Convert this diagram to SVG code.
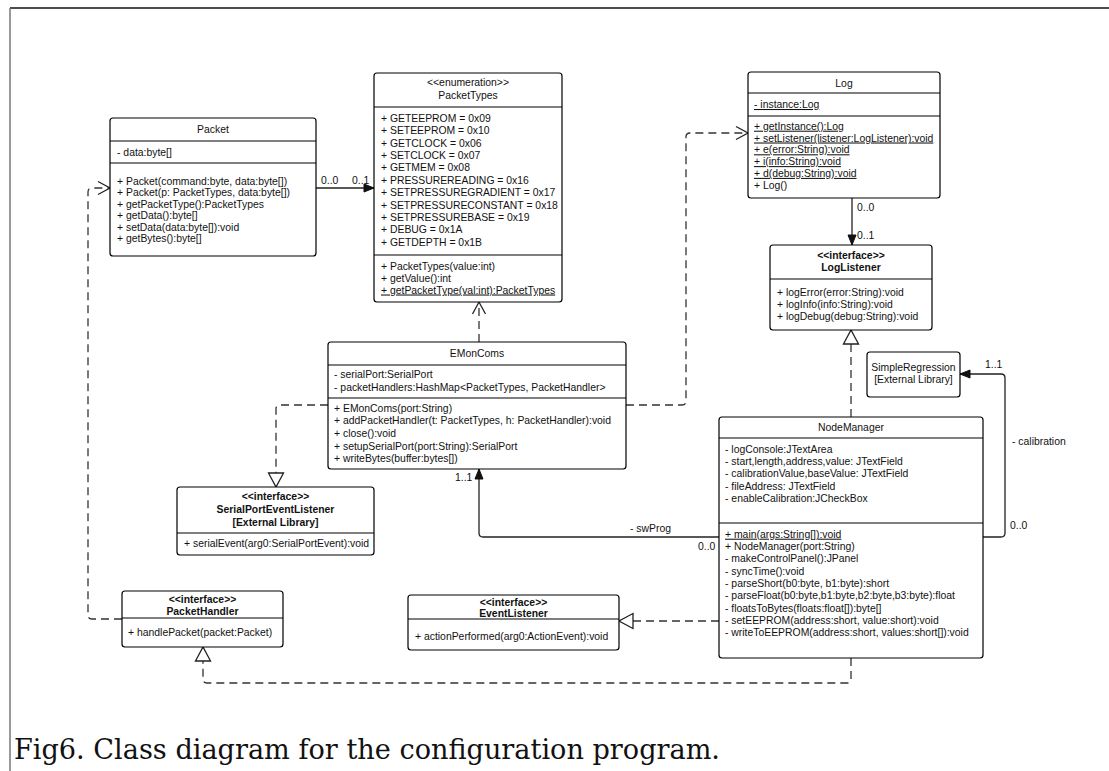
<svg xmlns="http://www.w3.org/2000/svg" width="1109" height="771" viewBox="0 0 1109 771">
  <style>
    .box { fill: #fff; stroke: #000; stroke-width: 1.2; }
    .sep { stroke: #000; stroke-width: 1.1; fill: none; }
    .t { font-family: "Liberation Sans", Arial, sans-serif; font-size: 10.4px; fill: #111; }
    .c { text-anchor: middle; }
    .b { font-weight: bold; }
    .u { text-decoration: underline; }
    .lbl { font-family: "Liberation Sans", Arial, sans-serif; font-size: 10.4px; fill: #111; }
    .solid { fill: none; stroke: #222; stroke-width: 1.3; }
    .dash { fill: none; stroke: #333; stroke-width: 1.3; stroke-dasharray: 8 5; }
    .cap { font-family: "DejaVu Serif", "Liberation Serif", serif; font-size: 27px; fill: #111; }
  </style>
  <defs>
    <!-- filled arrow for navigable associations -->
    <marker id="filled" markerUnits="userSpaceOnUse" markerWidth="12" markerHeight="12" refX="10" refY="6" orient="auto" overflow="visible">
      <path d="M0,2 L10,6 L0,10 z" fill="#111" stroke="#111" stroke-width="1" stroke-dasharray="none"/>
    </marker>
    <!-- open chevron for dependencies -->
    <marker id="open" markerUnits="userSpaceOnUse" markerWidth="14" markerHeight="14" refX="12" refY="7" orient="auto" overflow="visible">
      <path d="M0,0.5 L12,7 L0,13.5" fill="none" stroke="#222" stroke-width="1.3" stroke-dasharray="none"/>
    </marker>
    <!-- hollow triangle for realizations -->
    <marker id="tri" markerUnits="userSpaceOnUse" markerWidth="16" markerHeight="16" refX="14" refY="7.5" orient="auto" overflow="visible">
      <path d="M0,0 L14,7.5 L0,15 z" fill="#fff" stroke="#222" stroke-width="1.3" stroke-dasharray="none"/>
    </marker>
  </defs>

  <rect width="1109" height="771" fill="#fff"/>

  <!-- page frame -->
  <line x1="10" y1="8" x2="1109" y2="8" stroke="#111" stroke-width="1.5"/>
  <line x1="10" y1="8" x2="10" y2="771" stroke="#777" stroke-width="1.5"/>

  <g id="connectors">
    <!-- Packet -> PacketTypes -->
    <path class="solid" d="M316,188 H374" marker-end="url(#filled)"/>
    <text class="lbl" x="321" y="184">0..0</text>
    <text class="lbl" x="352" y="184">0..1</text>

    <!-- Log -> LogListener -->
    <path class="solid" d="M852,198 V245" marker-end="url(#filled)"/>
    <text class="lbl" x="857" y="211">0..0</text>
    <text class="lbl" x="857" y="239">0..1</text>

    <!-- NodeManager realizes LogListener -->
    <path class="dash" d="M851,417 V330" marker-end="url(#tri)"/>

    <!-- NodeManager -> SimpleRegression -->
    <path class="solid" d="M983,537 H1001 Q1005,537 1005,533 V378 Q1005,374 1001,374 H960" marker-end="url(#filled)"/>
    <text class="lbl" x="985" y="368">1..1</text>
    <text class="lbl" x="1012" y="445">- calibration</text>
    <text class="lbl" x="1010" y="529">0..0</text>

    <!-- NodeManager -> EMonComs -->
    <path class="solid" d="M719,537 H483 Q479,537 479,533 V469" marker-end="url(#filled)"/>
    <text class="lbl" x="630" y="532">- swProg</text>
    <text class="lbl" x="698" y="550">0..0</text>
    <text class="lbl" x="455" y="481">1..1</text>

    <!-- EMonComs depends on PacketTypes -->
    <path class="dash" d="M479,342 V302" marker-end="url(#open)"/>

    <!-- EMonComs depends on Log -->
    <path class="dash" d="M626,405 H682 Q686,405 686,401 V137 Q686,133 690,133 H748" marker-end="url(#open)"/>

    <!-- EMonComs realizes SerialPortEventListener -->
    <path class="dash" d="M328,405 H280 Q276,405 276,409 V487" marker-end="url(#tri)"/>

    <!-- PacketHandler depends on Packet -->
    <path class="dash" d="M122,619 H92 Q88,619 88,615 V192 Q88,188 92,188 H110" marker-end="url(#open)"/>

    <!-- NodeManager realizes EventListener -->
    <path class="dash" d="M719,621 H619" marker-end="url(#tri)"/>

    <!-- NodeManager realizes PacketHandler -->
    <path class="dash" d="M851,658 V679 Q851,683 847,683 H207 Q203,683 203,679 V647" marker-end="url(#tri)"/>
  </g>

  <g id="Packet">
    <rect class="box" x="110" y="118" width="206" height="138" rx="3"/>
    <line class="sep" x1="110" y1="141" x2="316" y2="141"/>
    <line class="sep" x1="110" y1="163" x2="316" y2="163"/>
    <text class="t c" x="213" y="133">Packet</text>
    <text class="t" x="117" y="155.7">- data:byte[]</text>
    <text class="t" x="117" y="184.7">+ Packet(command:byte, data:byte[])</text>
    <text class="t" x="117" y="196.2">+ Packet(p: PacketTypes, data:byte[])</text>
    <text class="t" x="117" y="207.7">+ getPacketType():PacketTypes</text>
    <text class="t" x="117" y="219.2">+ getData():byte[]</text>
    <text class="t" x="117" y="230.7">+ setData(data:byte[]):void</text>
    <text class="t" x="117" y="242.2">+ getBytes():byte[]</text>
  </g>

  <g id="PacketTypes">
    <rect class="box" x="374" y="73" width="188" height="229" rx="3"/>
    <line class="sep" x1="374" y1="107" x2="562" y2="107"/>
    <line class="sep" x1="374" y1="255" x2="562" y2="255"/>
    <text class="t c" x="468" y="86">&lt;&lt;enumeration&gt;&gt;</text>
    <text class="t c" x="468" y="99">PacketTypes</text>
    <text class="t" x="381" y="121.7">+ GETEEPROM = 0x09</text>
    <text class="t" x="381" y="134.1">+ SETEEPROM = 0x10</text>
    <text class="t" x="381" y="146.5">+ GETCLOCK = 0x06</text>
    <text class="t" x="381" y="158.9">+ SETCLOCK = 0x07</text>
    <text class="t" x="381" y="171.3">+ GETMEM = 0x08</text>
    <text class="t" x="381" y="183.7">+ PRESSUREREADING = 0x16</text>
    <text class="t" x="381" y="196.1">+ SETPRESSUREGRADIENT = 0x17</text>
    <text class="t" x="381" y="208.5">+ SETPRESSURECONSTANT = 0x18</text>
    <text class="t" x="381" y="220.9">+ SETPRESSUREBASE = 0x19</text>
    <text class="t" x="381" y="233.3">+ DEBUG = 0x1A</text>
    <text class="t" x="381" y="245.7">+ GETDEPTH = 0x1B</text>
    <text class="t" x="381" y="269.5">+ PacketTypes(value:int)</text>
    <text class="t" x="381" y="281.5">+ getValue():int</text>
    <text class="t u" x="381" y="293.5">+ getPacketType(val:int):PacketTypes</text>
  </g>

  <g id="Log">
    <rect class="box" x="748" y="72" width="192" height="126" rx="3"/>
    <line class="sep" x1="748" y1="93" x2="940" y2="93"/>
    <line class="sep" x1="748" y1="116" x2="940" y2="116"/>
    <text class="t c" x="844" y="87">Log</text>
    <text class="t u" x="754" y="108">- instance:Log</text>
    <text class="t u" x="754" y="129.7">+ getInstance():Log</text>
    <text class="t u" x="754" y="141.5">+ setListener(listener:LogListener):void</text>
    <text class="t u" x="754" y="153.3">+ e(error:String):void</text>
    <text class="t u" x="754" y="165.1">+ i(info:String):void</text>
    <text class="t u" x="754" y="176.9">+ d(debug:String):void</text>
    <text class="t" x="754" y="188.7">+ Log()</text>
  </g>

  <g id="LogListener">
    <rect class="box" x="770" y="245" width="162" height="85" rx="3"/>
    <line class="sep" x1="770" y1="279" x2="932" y2="279"/>
    <text class="t c b" x="851" y="258.7">&lt;&lt;interface&gt;&gt;</text>
    <text class="t c b" x="851" y="270.7">LogListener</text>
    <text class="t" x="777" y="295.7">+ logError(error:String):void</text>
    <text class="t" x="777" y="308">+ logInfo(info:String):void</text>
    <text class="t" x="777" y="320.3">+ logDebug(debug:String):void</text>
  </g>

  <g id="SimpleRegression">
    <rect class="box" x="867" y="352" width="93" height="45" rx="3"/>
    <text class="t c" x="913.5" y="370.7">SimpleRegression</text>
    <text class="t c" x="913.5" y="382.7">[External Library]</text>
  </g>

  <g id="EMonComs">
    <rect class="box" x="328" y="342" width="298" height="127" rx="3"/>
    <line class="sep" x1="328" y1="365" x2="626" y2="365"/>
    <line class="sep" x1="328" y1="398" x2="626" y2="398"/>
    <text class="t c" x="477" y="356.7">EMonComs</text>
    <text class="t" x="334" y="377.7">- serialPort:SerialPort</text>
    <text class="t" x="334" y="390.7">- packetHandlers:HashMap&lt;PacketTypes, PacketHandler&gt;</text>
    <text class="t" x="334" y="411.7">+ EMonComs(port:String)</text>
    <text class="t" x="334" y="424.3">+ addPacketHandler(t: PacketTypes, h: PacketHandler):void</text>
    <text class="t" x="334" y="436.9">+ close():void</text>
    <text class="t" x="334" y="449.5">+ setupSerialPort(port:String):SerialPort</text>
    <text class="t" x="334" y="462.1">+ writeBytes(buffer:bytes[])</text>
  </g>

  <g id="SerialPortEventListener">
    <rect class="box" x="177" y="487" width="197" height="68" rx="3"/>
    <line class="sep" x1="177" y1="533" x2="374" y2="533"/>
    <text class="t c b" x="275.5" y="499.7">&lt;&lt;interface&gt;&gt;</text>
    <text class="t c b" x="275.5" y="512.7">SerialPortEventListener</text>
    <text class="t c b" x="275.5" y="525.7">[External Library]</text>
    <text class="t" x="184" y="546.7">+ serialEvent(arg0:SerialPortEvent):void</text>
  </g>

  <g id="NodeManager">
    <rect class="box" x="719" y="417" width="264" height="241" rx="3"/>
    <line class="sep" x1="719" y1="438" x2="983" y2="438"/>
    <line class="sep" x1="719" y1="523" x2="983" y2="523"/>
    <text class="t c" x="851" y="430.7">NodeManager</text>
    <text class="t" x="725" y="452.7">- logConsole:JTextArea</text>
    <text class="t" x="725" y="465">- start,length,address,value: JTextField</text>
    <text class="t" x="725" y="477.3">- calibrationValue,baseValue: JTextField</text>
    <text class="t" x="725" y="489.6">- fileAddress: JTextField</text>
    <text class="t" x="725" y="501.9">- enableCalibration:JCheckBox</text>
    <text class="t u" x="725" y="537.7">+ main(args:String[]):void</text>
    <text class="t" x="725" y="550">+ NodeManager(port:String)</text>
    <text class="t" x="725" y="562.3">- makeControlPanel():JPanel</text>
    <text class="t" x="725" y="574.6">- syncTime():void</text>
    <text class="t" x="725" y="586.9">- parseShort(b0:byte, b1:byte):short</text>
    <text class="t" x="725" y="599.2">- parseFloat(b0:byte,b1:byte,b2:byte,b3:byte):float</text>
    <text class="t" x="725" y="611.5">- floatsToBytes(floats:float[]):byte[]</text>
    <text class="t" x="725" y="623.8">- setEEPROM(address:short, value:short):void</text>
    <text class="t" x="725" y="636.1">- writeToEEPROM(address:short, values:short[]):void</text>
  </g>

  <g id="PacketHandler">
    <rect class="box" x="122" y="591" width="161" height="56" rx="3"/>
    <line class="sep" x1="122" y1="618" x2="283" y2="618"/>
    <text class="t c b" x="202.5" y="602.7">&lt;&lt;interface&gt;&gt;</text>
    <text class="t c b" x="202.5" y="614.7">PacketHandler</text>
    <text class="t" x="128" y="635.7">+ handlePacket(packet:Packet)</text>
  </g>

  <g id="EventListener">
    <rect class="box" x="408" y="595" width="211" height="55" rx="3"/>
    <line class="sep" x1="408" y1="619" x2="619" y2="619"/>
    <text class="t c b" x="513.5" y="605.7">&lt;&lt;interface&gt;&gt;</text>
    <text class="t c b" x="513.5" y="617.2">EventListener</text>
    <text class="t" x="415" y="639.7">+ actionPerformed(arg0:ActionEvent):void</text>
  </g>

  <text class="cap" x="14" y="759" textLength="706" lengthAdjust="spacingAndGlyphs">Fig6. Class diagram for the configuration program.</text>
</svg>
